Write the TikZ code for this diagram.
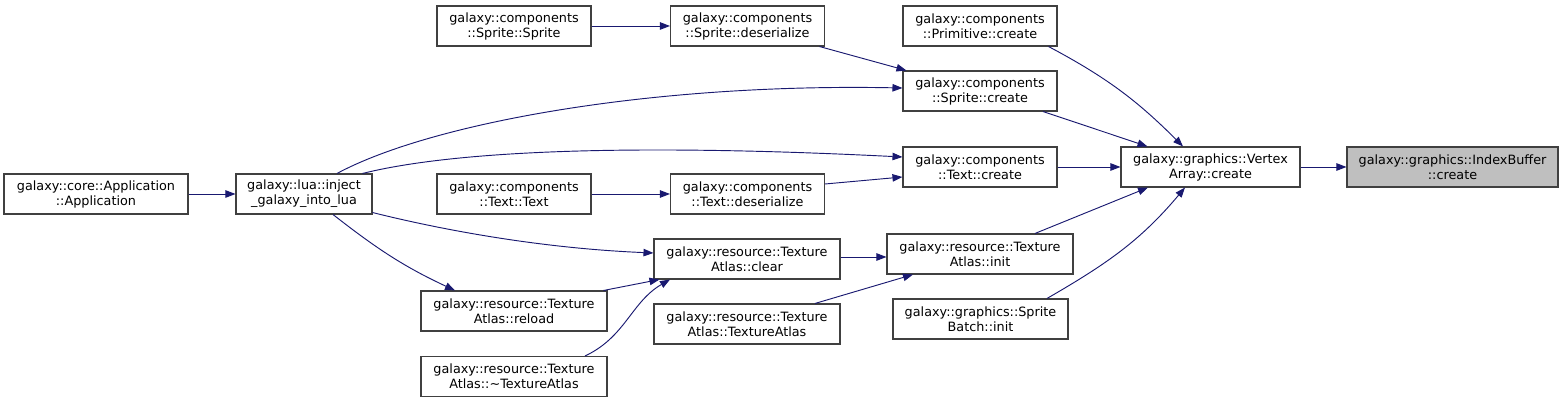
\documentclass[tikz,border=0pt]{standalone}
\usepackage{fontspec}
\setmainfont{DejaVu Sans}
\usetikzlibrary{arrows.meta}
\definecolor{edgeblue}{HTML}{191970}
\definecolor{boxline}{HTML}{404040}
\definecolor{hilite}{HTML}{BFBFBF}
\begin{document}
\begin{tikzpicture}[x=0.75pt,y=0.75pt,
  every node/.style={font=\fontsize{9.6}{11.25}\selectfont},
  fn/.style={draw=boxline,line width=0.8pt,fill=white,align=center,inner sep=0pt,minimum height=30pt,minimum width=115.5pt},
  wide/.style={fn,minimum width=139.5pt},
  call/.style={draw=edgeblue,line width=0.7pt,-{Triangle[length=7.5pt,width=5.6pt]}}]
\useasboundingbox (0,0) rectangle (1564,403);
% callee at the right, callers to the left (pixel grid, y up)
\node[fn,fill=hilite,minimum width=158.25pt] (ib) at (1452.5,236) {galaxy::graphics::IndexBuffer\\::create};
\node[fn,minimum width=134.25pt] (va) at (1210.5,236) {galaxy::graphics::Vertex\\Array::create};
% third column
\node[fn] (prim) at (980,377) {galaxy::components\\::Primitive::create};
\node[fn] (sprcreate) at (980,312) {galaxy::components\\::Sprite::create};
\node[fn] (txtcreate) at (980,236) {galaxy::components\\::Text::create};
\node[wide] (init) at (980,149) {galaxy::resource::Texture\\Atlas::init};
\node[fn,minimum width=131.25pt] (batch) at (980.5,84) {galaxy::graphics::Sprite\\Batch::init};
% fourth column
\node[fn] (sprdes) at (747.5,377) {galaxy::components\\::Sprite::deserialize};
\node[fn] (txtdes) at (747.5,209) {galaxy::components\\::Text::deserialize};
\node[wide] (clear) at (747,144) {galaxy::resource::Texture\\Atlas::clear};
\node[wide] (tactor) at (747,79) {galaxy::resource::Texture\\Atlas::TextureAtlas};
% fifth column
\node[fn] (sprctor) at (514,377) {galaxy::components\\::Sprite::Sprite};
\node[fn] (txtctor) at (514,209) {galaxy::components\\::Text::Text};
\node[wide] (reload) at (514,92) {galaxy::resource::Texture\\Atlas::reload};
\node[wide] (dtor) at (514,26.5) {galaxy::resource::Texture\\Atlas::\textasciitilde TextureAtlas};
% lua and application
\node[fn,minimum width=102pt] (lua) at (304,209) {galaxy::lua::inject\\\_galaxy\_into\_lua};
\node[fn,minimum width=138pt] (app) at (96,209) {galaxy::core::Application\\::Application};
% straight calls
\draw[call] (va) -- (ib);
\draw[call] (txtcreate) -- (va);
\draw[call] (sprctor) -- (sprdes);
\draw[call] (txtctor) -- (txtdes);
\draw[call] (app) -- (lua);
\draw[call] ([shift={(63,0)}]sprcreate.south) -- ([shift={(-63,0)}]va.north);
\draw[call] ([shift={(55,0)}]init.north) -- ([shift={(-62.5,0)}]va.south);
\draw[call] ([shift={(72,0)}]sprdes.south) -- ([shift={(4,0)}]sprcreate.north west);
\draw[call] ([shift={(0,10)}]txtdes.east) -- ([shift={(0,-10)}]txtcreate.west);
\draw[call] ([shift={(0,2)}]clear.east) -- ([shift={(0,-3)}]init.west);
\draw[call] ([shift={(68,0)}]tactor.north) -- ([shift={(-67,0)}]init.south);
\draw[call] ([shift={(-4,0)}]reload.north east) -- ([shift={(6,0)}]clear.south west);
% curved calls
\draw[call] ([shift={(-9,0)}]prim.south east) to[out=-28,in=135] ([shift={(-27.5,0)}]va.north);
\draw[call] ([shift={(66.5,0)}]batch.north) to[out=30,in=-130] ([shift={(-25.5,0)}]va.south);
\draw[call] ([shift={(33,0)}]lua.north) .. controls +(93,50) and +(-253,5) .. ([shift={(0,3)}]sprcreate.west);
\draw[call] ([shift={(-10,0)}]lua.north east) .. controls +(80,20) and +(-300,15) .. ([shift={(0,10)}]txtcreate.west);
\draw[call] ([shift={(0,2)}]lua.south east) .. controls +(60,-15) and +(-120,5) .. ([shift={(0,6)}]clear.west);
\draw[call] ([shift={(29,0)}]lua.south) to[out=-38,in=155] ([shift={(-59,0)}]reload.north);
\draw[call] ([shift={(71,0)}]dtor.north) to[out=25,in=-150] ([shift={(-77,0)}]clear.south);
\end{tikzpicture}
\end{document}
